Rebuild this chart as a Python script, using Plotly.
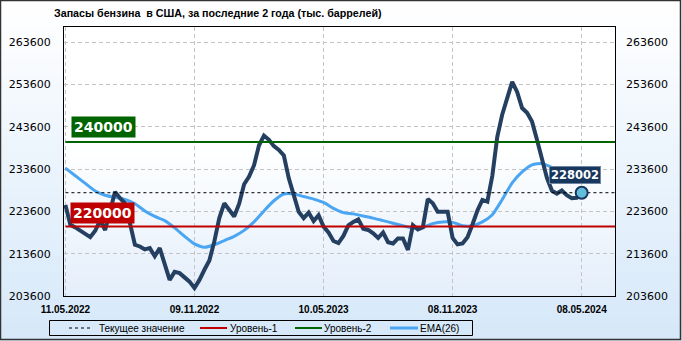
import pandas as pd
import plotly.graph_objects as go

# ---------------- data ----------------
start_date = "2022-05-11"
n_weeks = 105
stocks = [225100, 220400, 219800, 219000, 218200, 217500, 219000, 221500, 219200, 224000,
          228200, 226700, 225500, 220800, 215700, 215300, 214600, 214900, 213000, 214900,
          211000, 207400, 209300, 209000, 208000, 207000, 205500, 207400, 209800, 212000,
          216500, 222000, 225500, 223800, 222400, 225400, 230000, 231800, 234500, 239200,
          241500, 240500, 239000, 238100, 236800, 231400, 227000, 223500, 222000, 223300,
          221300, 222700, 220000, 218600, 216600, 216100, 217800, 220300, 221100, 221700,
          219500, 219200, 218400, 217300, 218600, 216300, 216000, 217200, 217200, 214500,
          220300, 219300, 219800, 226500, 225500, 223500, 223500, 223500, 217300, 215800,
          216000, 217500, 220500, 223800, 226300, 225900, 232000, 241200, 246500, 250500,
          254200, 251800, 248000, 246900, 244800, 240500, 235500, 231500, 228500, 227800,
          228500, 227400, 226700, 226800, 228002]
# EMA(26) read every second week
ema26 = [233800, 232000, 230200, 228400, 227400, 226900, 226400, 225400, 223700, 222400,
         221400, 219700, 217700, 215900, 215100, 215700, 216700, 217700, 219100, 221100,
         223700, 226100, 227700, 227700, 227100, 226500, 225700, 224300, 223300, 223000,
         222500, 222000, 221400, 220800, 220200, 219600, 219800, 220700, 221100, 221000,
         220200, 220200, 221100, 222800, 226400, 230300, 232900, 234600, 234900, 234000,
         233400, 233000, 232600]
level1 = 220000
level2 = 240000
current = 228002
y_ticks = [203600, 213600, 223600, 233600, 243600, 253600, 263600]
x_tick_dates = ["2022-05-11", "2022-11-09", "2023-05-10", "2023-11-08", "2024-05-08"]
x_tick_text = ["11.05.2022", "09.11.2022", "10.05.2023", "08.11.2023", "08.05.2024"]
title = "Запасы бензина  в США, за последние 2 года (тыс. баррелей)"
legend_names = ["Текущее значение", "Уровень-1", "Уровень-2", "EMA(26)"]

dates = pd.date_range(start_date, periods=n_weeks, freq="7D")
ema_dates = dates[::2]
x_range = ["2022-05-09", "2024-06-24"]
y_range = [203600, 267150]

# ---------------- styles ----------------
C_MAIN = "#243f60"
C_EMA = "#4aa6f2"
C_L1 = "#c00000"
C_L2 = "#006400"
C_CUR = "black"

# ---------------- layout geometry ----------------
W, H = 682, 341
ml, mr, mt, mb = 64, 67, 27, 45
pw, ph = W - ml - mr, H - mt - mb

def px(x):  # pixel x -> paper
    return (x - ml) / pw

def py(y):  # pixel y -> paper
    return (H - mb - y) / ph

fig = go.Figure()

fig.add_trace(go.Scatter(x=ema_dates, y=ema26, mode="lines", name=legend_names[3],
                         line=dict(color=C_EMA, width=3, shape="spline", smoothing=0.6)))
fig.add_trace(go.Scatter(x=dates, y=stocks, mode="lines", name="Запасы",
                         line=dict(color=C_MAIN, width=4)))
fig.add_trace(go.Scatter(x=[dates[0], x_range[1]], y=[level1, level1], mode="lines",
                         name=legend_names[1], line=dict(color=C_L1, width=2)))
fig.add_trace(go.Scatter(x=[dates[0], x_range[1]], y=[level2, level2], mode="lines",
                         name=legend_names[2], line=dict(color=C_L2, width=2)))
fig.add_trace(go.Scatter(x=[dates[0], x_range[1]], y=[current, current], mode="lines",
                         name=legend_names[0], line=dict(color=C_CUR, width=1, dash="3px,3px")))
fig.add_trace(go.Scatter(x=[dates[-1]], y=[stocks[-1]], mode="markers", name="Последнее",
                         marker=dict(size=12, color="#62bcdc", line=dict(color="#17375e", width=2))))
# right axis companion
fig.add_trace(go.Scatter(x=[dates[0]], y=[current], yaxis="y2", mode="markers",
                         marker=dict(opacity=0), hoverinfo="skip"))

# ---------------- gradient backgrounds ----------------
shapes = []
def lerp(c1, c2, t):
    return "rgb(%d,%d,%d)" % tuple(round(a + (b - a) * t) for a, b in zip(c1, c2))

N = 40
top_c, bot_c = (255, 255, 255), (214, 232, 249)
for k in range(N):
    y0 = H * k / N
    y1 = H * (k + 1) / N + 0.5
    t = k / (N - 1)
    shapes.append(dict(type="rect", xref="paper", yref="paper", layer="below",
                       x0=px(0), x1=px(W), y0=py(y1), y1=py(y0),
                       fillcolor=lerp(top_c, bot_c, t), line=dict(width=0)))
pbot = (228, 239, 251)
for k in range(N):
    y0 = mt + ph * k / N
    y1 = mt + ph * (k + 1) / N + 0.5
    t = k / (N - 1)
    tt = max(0.0, (t - 0.45) / 0.55)
    shapes.append(dict(type="rect", xref="paper", yref="paper", layer="below",
                       x0=0, x1=1, y0=py(min(y1, H - mb)), y1=py(y0),
                       fillcolor=lerp((255, 255, 255), pbot, tt), line=dict(width=0)))
# outer border
shapes.append(dict(type="rect", xref="paper", yref="paper", layer="above",
                   x0=px(0.5), x1=px(W - 1.5), y0=py(H - 1.5), y1=py(0.5),
                   line=dict(color="#333333", width=1.5), fillcolor="rgba(0,0,0,0)"))

# ---------------- legend (drawn) ----------------
leg_y = 328
shapes.append(dict(type="rect", xref="paper", yref="paper", layer="above",
                   x0=px(49.5), x1=px(472.5), y0=py(335.5), y1=py(320.5),
                   line=dict(color="black", width=1), fillcolor="rgba(0,0,0,0)"))
legend_items = [
    (legend_names[0], 69, 93, 97, dict(color=C_CUR, width=1, dash="3px,3px")),
    (legend_names[1], 200, 227, 228, dict(color=C_L1, width=2)),
    (legend_names[2], 295, 322, 322, dict(color=C_L2, width=2)),
    (legend_names[3], 390, 418, 418, dict(color=C_EMA, width=3)),
]
annotations = []
for name, sx0, sx1, tx, ln in legend_items:
    shapes.append(dict(type="line", xref="paper", yref="paper", layer="above",
                       x0=px(sx0), x1=px(sx1), y0=py(leg_y), y1=py(leg_y), line=ln))
    annotations.append(dict(text=name, xref="paper", yref="paper", x=px(tx), y=py(leg_y),
                            xanchor="left", yanchor="middle", showarrow=False,
                            font=dict(family="Liberation Sans", size=10, color="black")))

annotations += [
    dict(text="<b>%s</b>" % title, xref="paper", yref="paper", x=px(52), y=py(13),
         xanchor="left", yanchor="middle", showarrow=False,
         font=dict(family="Liberation Sans", size=10.7, color="black")),
    dict(text="<b>%d</b>" % level2, xref="paper", yref="y", x=px(71), y=level2,
         xanchor="left", yanchor="bottom", yshift=4, showarrow=False,
         bgcolor=C_L2, borderpad=2,
         font=dict(family="DejaVu Sans", size=14, color="white")),
    dict(text="<b>%d</b>" % level1, xref="paper", yref="y", x=px(70), y=level1,
         xanchor="left", yanchor="bottom", yshift=3, showarrow=False,
         bgcolor=C_L1, borderpad=2,
         font=dict(family="DejaVu Sans", size=14, color="white")),
    dict(text="<b>%d</b>" % current, xref="x", yref="y", x=dates[-1], y=current,
         xanchor="center", yanchor="bottom", xshift=-7, yshift=9, showarrow=False,
         bgcolor="#17375e", bordercolor="#6f86a3", borderwidth=1, borderpad=1,
         font=dict(family="DejaVu Sans", size=11.5, color="white")),
]

axis_font = dict(family="DejaVu Sans", size=11, color="black")
fig.update_layout(
    width=W, height=H, margin=dict(l=ml, r=mr, t=mt, b=mb, autoexpand=False),
    paper_bgcolor="white", plot_bgcolor="rgba(0,0,0,0)",
    shapes=shapes, annotations=annotations, showlegend=False,
    xaxis=dict(type="date", range=x_range, tickvals=x_tick_dates,
               ticktext=["<b>%s</b>" % t for t in x_tick_text],
               tickfont=dict(family="Liberation Sans", size=10, color="black"),
               showgrid=True, gridcolor="#c4c4c4", griddash="4px,3px", gridwidth=1,
               showline=True, linecolor="black", linewidth=1, mirror=True,
               ticks="", ticklabelstandoff=4, zeroline=False),
    yaxis=dict(range=y_range, tickvals=y_ticks, tickformat="d", tickfont=axis_font,
               showgrid=True, gridcolor="#c4c4c4", griddash="4px,3px", gridwidth=1,
               showline=True, linecolor="black", linewidth=1, mirror=True,
               ticks="", ticklabelstandoff=10, zeroline=False, tickprefix="<b>", ticksuffix="</b>"),
    yaxis2=dict(range=y_range, tickvals=y_ticks, tickformat="d", tickfont=axis_font,
                overlaying="y", side="right", showgrid=False, zeroline=False,
                ticks="", ticklabelstandoff=10, tickprefix="<b>", ticksuffix="</b>"),
)

fig.write_html("out.html")
